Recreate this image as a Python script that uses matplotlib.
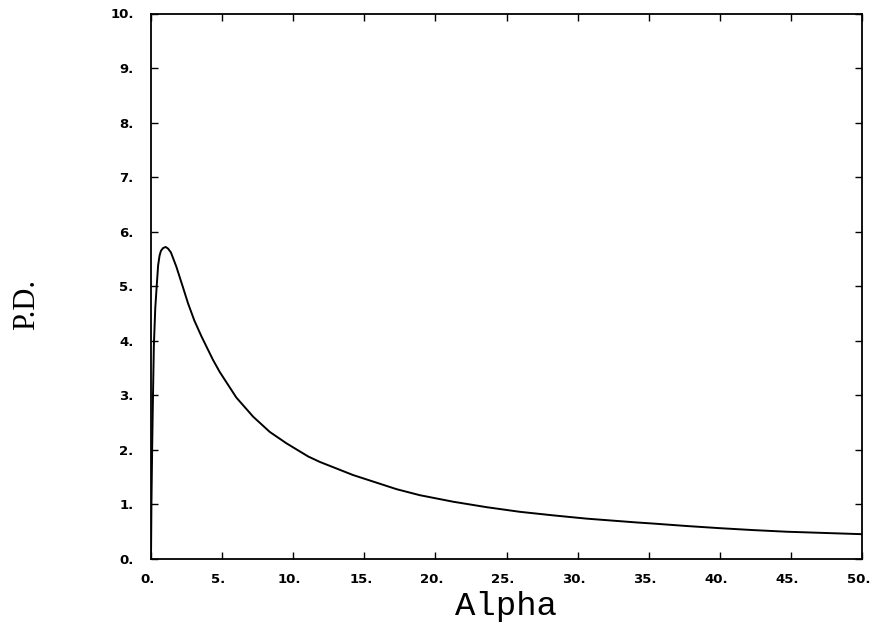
import matplotlib
matplotlib.use("Agg")
import matplotlib.pyplot as plt
import matplotlib.transforms as mtransforms

# Data (Alpha vs P.D.)
alpha = [0.0, 0.03, 0.08, 0.14, 0.20, 0.30, 0.40, 0.50, 0.60, 0.70, 0.85,
         1.03, 1.20, 1.40, 1.78, 2.20, 2.60, 3.05, 3.55, 4.36, 4.83, 6.00,
         7.18, 8.35, 9.53, 11.05, 11.87, 14.2, 17.27, 18.9, 21.25, 23.6,
         25.94, 28.28, 30.63, 34.15, 35.3, 37.66, 40.0, 42.35, 44.7, 47.06,
         50.0]
pd_vals = [0.0, 1.0, 2.0, 3.0, 3.9, 4.6, 5.0, 5.38, 5.56, 5.65, 5.70,
           5.72, 5.69, 5.62, 5.36, 5.02, 4.69, 4.37, 4.08, 3.65, 3.43, 2.96,
           2.61, 2.33, 2.12, 1.88, 1.78, 1.54, 1.28, 1.17, 1.05, 0.95,
           0.865, 0.80, 0.74, 0.67, 0.65, 0.605, 0.565, 0.53, 0.50, 0.48,
           0.455]

x_ticks = [0, 5, 10, 15, 20, 25, 30, 35, 40, 45, 50]
x_ticklabels = ["0.", "5.", "10.", "15.", "20.", "25.", "30.", "35.", "40.", "45.", "50."]
y_ticks = [0, 1, 2, 3, 4, 5, 6, 7, 8, 9, 10]
y_ticklabels = ["0.", "1.", "2.", "3.", "4.", "5.", "6.", "7.", "8.", "9.", "10."]

fig = plt.figure(figsize=(8.72, 6.29), dpi=100)
ax = fig.add_axes([151/872, 1-559/629, (862-151)/872, (559-13.5)/629])

ax.plot(alpha, pd_vals, color="black", lw=1.4, solid_joinstyle="round")
ax.set_xlim(0, 50)
ax.set_ylim(0, 10)

ax.set_xticks(x_ticks)
ax.set_xticklabels(x_ticklabels)
ax.set_yticks(y_ticks)
ax.set_yticklabels(y_ticklabels)

ax.tick_params(direction="in", length=5, width=1.0, top=True, right=True,
               labelsize=9.5, colors="black")
ax.tick_params(axis="x", pad=10)
ax.tick_params(axis="y", pad=12.5)
for lab in ax.get_xticklabels() + ax.get_yticklabels():
    lab.set_fontweight("bold")
    lab.set_family("DejaVu Sans")
offset = mtransforms.ScaledTranslation(-3.5/100, 0, fig.dpi_scale_trans)
for lab in ax.get_xticklabels():
    lab.set_transform(lab.get_transform() + offset)

for s in ax.spines.values():
    s.set_linewidth(1.3)
    s.set_color("black")

fig.text(506/872, 1-606/629, "Alpha", family="Liberation Mono", fontsize=24.5,
         ha="center", va="center")
fig.text(27/872, 1-304/629, "P.D.", family="Liberation Serif", fontsize=22,
         rotation=90, ha="center", va="center")

fig.savefig("out.png", dpi=100)
